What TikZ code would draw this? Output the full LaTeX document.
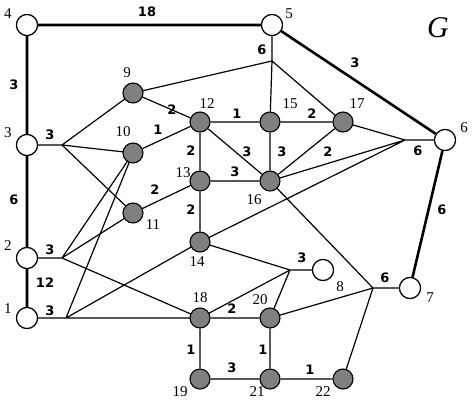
\documentclass[tikz,border=0pt]{standalone}
\usepackage{fontspec}
\newfontfamily\wf{DejaVu Sans}[Scale=1]
\setmainfont{Liberation Serif}
\begin{document}
\begin{tikzpicture}[x=1pt,y=-1pt,
 wv/.style={circle,draw,line width=1.1pt,fill=white,minimum size=21pt,inner sep=0pt},
 gv/.style={circle,draw,line width=1.1pt,fill=black!50,minimum size=20pt,inner sep=0pt},
 e/.style={line width=1.2pt},
 be/.style={line width=2.6pt},
 w/.style={font=\wf\bfseries\fontsize{13}{13}\selectfont},
 lb/.style={font=\fontsize{15}{15}\selectfont}]
\useasboundingbox (0,0) rectangle (474,403);
\coordinate (h5) at (272,61);
\coordinate (h6) at (405,140);
\coordinate (h3) at (62,145);
\coordinate (h2) at (62,258);
\coordinate (h1) at (66,318);
\coordinate (h8) at (290,270);
\coordinate (h7) at (373,288);
\node[wv] (n4) at (27,25) {}; \node[wv] (n5) at (272,25) {};
\node[wv] (n6) at (445,140) {}; \node[wv] (n7) at (410,288) {};
\node[wv] (n8) at (323,270) {}; \node[wv] (n3) at (27,145) {};
\node[wv] (n2) at (27,258) {}; \node[wv] (n1) at (27,318) {};
\begin{scope}[on background layer/.style={}]
\end{scope}
% edges drawn first via pgfonlayer-free order: draw edges then redraw nodes
\draw[be] (n4)--(n5) (n4)--(n3) (n3)--(n2) (n2)--(n1) (n5)--(n6) (n6)--(n7);
\draw[e] (n5)--(h5) (h5)--(133,93) (h5)--(270,122) (h5)--(343,122);
\draw[e] (n6)--(h6) (h6)--(343,122) (h6)--(270,181) (h6)--(200,242);
\draw[e] (n3)--(h3) (h3)--(133,93) (h3)--(133,153) (h3)--(133,213);
\draw[e] (n2)--(h2) (h2)--(133,153) (h2)--(133,213) (h2)--(200,318);
\draw[e] (n1)--(h1) (h1)--(133,153) (h1)--(200,242) (h1)--(200,318);
\draw[e] (n8)--(h8) (h8)--(200,242) (h8)--(200,318) (h8)--(270,318);
\draw[e] (n7)--(h7) (h7)--(270,181) (h7)--(270,318) (h7)--(343,379);
\node[gv] (n9) at (133,93) {}; \node[gv] (n10) at (133,153) {};
\node[gv] (n11) at (133,213) {}; \node[gv] (n12) at (200,122) {};
\node[gv] (n15) at (270,122) {}; \node[gv] (n17) at (343,122) {};
\node[gv] (n13) at (200,181) {}; \node[gv] (n16) at (270,181) {};
\node[gv] (n14) at (200,242) {}; \node[gv] (n18) at (200,318) {};
\node[gv] (n20) at (270,318) {}; \node[gv] (n19) at (200,379) {};
\node[gv] (n21) at (270,379) {}; \node[gv] (n22) at (343,379) {};
\draw[e] (n9)--(n12) (n12)--(n15) (n15)--(n17) (n10)--(n12) (n12)--(n13)
 (n12)--(n16) (n15)--(n16) (n17)--(n16) (n13)--(n16) (n11)--(n13) (n13)--(n14)
 (n18)--(n20) (n18)--(n19) (n20)--(n21) (n19)--(n21) (n21)--(n22);
\foreach \n/\p in {4/{27,25},5/{272,25},6/{445,140},7/{410,288},8/{323,270},3/{27,145},2/{27,258},1/{27,318}}
 \node[wv] at (\p) {};
% weights
\node[w] at (147,12) {18}; \node[w] at (14,85) {3}; \node[w] at (14,200) {6};
\node[w] at (45,283) {12}; \node[w] at (355,63) {3}; \node[w] at (442,210) {6};
\node[w] at (262,50) {6}; \node[w] at (418,151) {6}; \node[w] at (50,135) {3};
\node[w] at (50,250) {3}; \node[w] at (50,311) {3}; \node[w] at (302,258) {3};
\node[w] at (385,278) {6};
\node[w] at (172,110) {2}; \node[w] at (237,114) {1}; \node[w] at (312,114) {2};
\node[w] at (158,130) {1}; \node[w] at (191,151) {2}; \node[w] at (247,152) {3};
\node[w] at (282,152) {3}; \node[w] at (328,152) {2}; \node[w] at (235,172) {3};
\node[w] at (155,190) {2}; \node[w] at (191,210) {2}; \node[w] at (232,309) {2};
\node[w] at (191,350) {1}; \node[w] at (263,350) {1}; \node[w] at (232,368) {3};
\node[w] at (310,370) {1};
% vertex labels
\node[lb] at (8,14) {4}; \node[lb] at (289,14) {5}; \node[lb] at (464,128) {6};
\node[lb] at (8,133) {3}; \node[lb] at (8,246) {2}; \node[lb] at (8,309) {1};
\node[lb] at (127,73) {9}; \node[lb] at (123,132) {10}; \node[lb] at (153,225) {11};
\node[lb] at (207,104) {12}; \node[lb] at (290,104) {15}; \node[lb] at (357,104) {17};
\node[lb] at (183,173) {13}; \node[lb] at (254,200) {16}; \node[lb] at (197,262) {14};
\node[lb] at (200,298) {18}; \node[lb] at (260,300) {20}; \node[lb] at (340,287) {8};
\node[lb] at (430,298) {7}; \node[lb] at (180,392) {19}; \node[lb] at (257,392) {21};
\node[lb] at (323,392) {22};
\node[font=\itshape\fontsize{30}{30}\selectfont] at (438,28) {G};
\end{tikzpicture}
\end{document}
